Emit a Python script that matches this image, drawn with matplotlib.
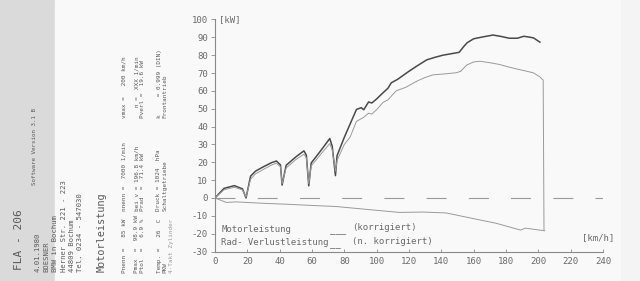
import matplotlib.pyplot as plt
from matplotlib.patches import Rectangle

# dyno printout: Motorleistung (korrigiert), Radleistung, Verlustleistung
motor_v = [0, 5.6, 12, 17, 19.2, 22, 25, 30, 35, 38, 40.5, 41.5, 44, 50, 55, 56.5, 58, 59.5,
           65, 71, 72.5, 74.5, 75.5, 80, 87.5, 90.5, 92, 95, 97, 100, 104, 107, 109, 113,
           120, 125, 131, 136, 141, 146, 151, 154, 156, 160, 166, 172, 177, 182, 187, 191,
           194, 197, 201]
motor_kw = [0, 5.4, 6.9, 5.1, 0, 12.2, 15, 17.5, 19.8, 20.7, 18.5, 7.2, 18.3, 23, 26.4, 24, 6.8, 19.6,
            26, 33.3, 29, 12.5, 23.7, 34, 49.6, 50.6, 49.4, 53.8, 53.2, 55.5, 59, 61.5, 64.5, 66.5,
            71, 74, 77.4, 78.8, 80, 80.8, 81.6, 85, 87, 89.2, 90.3, 91.3, 90.5, 89.5, 89.5, 90.6,
            90.2, 89.7, 87.3]

rad_v = [0, 5.6, 12, 17, 19.2, 22, 25, 30, 35, 38, 40.5, 41.5, 44, 50, 55, 56.5, 58, 59.5,
         65, 71, 72.5, 74.5, 75.5, 80, 83.5, 87.5, 92, 95, 97, 100, 104, 107, 112, 118,
         124.7, 130, 135, 142, 149.5, 152, 155.7, 160, 164, 170, 176, 182, 187, 191, 197,
         201, 203, 203.5]
rad_kw = [0, 4.6, 6, 4.5, 0.5, 10.5, 13.5, 16, 18.5, 19.5, 17.5, 8, 16.8, 21.5, 24.5, 22.5, 8, 18,
          24, 30.5, 27, 15, 21, 30, 34, 42.9, 45.2, 47.5, 47, 49.5, 53.6, 55, 60, 62,
          65.4, 67.5, 69, 69.5, 70.2, 71, 74.5, 76.2, 76.6, 75.8, 74.8, 73.3, 72.2, 71.4, 70.1,
          67.8, 66, -18.2]

verl_v = [0, 7, 13, 30, 44, 60, 75, 95, 114, 129, 143, 160, 174, 189, 192, 204]
verl_kw = [0, -2.5, -2.2, -3, -3.5, -4.2, -4.8, -6.5, -8.1, -7.9, -8.4, -11.6, -14.2, -18, -16.9, -18.4]

x_ticks = list(range(0, 241, 20))
y_ticks = list(range(-30, 101, 10))

mono = 'DejaVu Sans Mono'
grey = '#6a6a6a'

fig = plt.figure(figsize=(6.4, 2.81), dpi=100, facecolor='#f4f4f4')
fig.add_artist(Rectangle((0, 0), 55 / 640, 1, transform=fig.transFigure,
                         color='#dadada', zorder=-5))
fig.add_artist(Rectangle((55 / 640, 0), 565 / 640, 1, transform=fig.transFigure,
                         color='#f9f9f9', zorder=-5))

ax = fig.add_axes([215 / 640, 1 - 251.5 / 281, 388 / 640, 232 / 281])
ax.set_facecolor('none')

ax.plot(motor_v, motor_kw, color='#4a4a4a', lw=1.1)
ax.plot(rad_v, rad_kw, color='#9a9a9a', lw=0.7)
ax.plot(verl_v, verl_kw, color='#9a9a9a', lw=0.7)
ax.axhline(0, color='#9a9a9a', lw=0.8, linestyle=(0, (18, 20)))

ax.set_xlim(0, 240)
ax.set_ylim(-30, 100)
ax.set_xticks(x_ticks)
ax.set_yticks(y_ticks)
ax.set_xticklabels([str(t) for t in x_ticks])
ax.set_yticklabels([str(t) for t in y_ticks])
for s in ['top', 'right']:
    ax.spines[s].set_visible(False)
for s in ['left', 'bottom']:
    ax.spines[s].set_color('#8a8a8a')
    ax.spines[s].set_linewidth(0.8)
ax.tick_params(axis='y', direction='out', length=3, width=0.6, color='#8a8a8a',
               labelsize=6.5, labelcolor=grey, pad=2)
ax.tick_params(axis='x', direction='in', length=2, width=0.6, color='#8a8a8a',
               labelsize=6.5, labelcolor=grey, pad=4)
for lab in ax.get_xticklabels() + ax.get_yticklabels():
    lab.set_family(mono)

ax.text(0.01, 1.0, '[kW]', transform=ax.transAxes, family=mono, fontsize=6.5,
        color=grey, va='center')
ax.text(0.946, 0.06, '[km/h]', transform=ax.transAxes, family=mono, fontsize=6.5,
        color=grey, va='center', clip_on=False)

# legend written into the plot
ax.text(4, -17.5, 'Motorleistung', family=mono, fontsize=6.5, color=grey, va='center')
ax.text(4, -25, 'Rad- Verlustleistung', family=mono, fontsize=6.5, color=grey, va='center')
ax.text(71, -18.5, '___', family=mono, fontsize=6.5, color=grey, va='center')
ax.text(71, -26, '__', family=mono, fontsize=6.5, color=grey, va='center')
ax.text(85, -16.5, '(korrigiert)', family=mono, fontsize=6.5, color=grey, va='center')
ax.text(85, -24.5, '(n. korrigiert)', family=mono, fontsize=6.5, color=grey, va='center')

# rotated header block on the left
def vtext(x, y, s, size, color='#5a5a5a'):
    fig.text(x / 640, 1 - y / 281, s, rotation=90, rotation_mode='anchor',
             ha='left', va='center', family=mono, fontsize=size, color=color)

vtext(19, 270, 'FLA - 206', 8.0)
vtext(35, 185, 'Software Version 3.1 B', 4.2)
addr = 5.2
vtext(38, 272, '4.01.1980', addr)
vtext(46.5, 272, 'BOESNER', addr)
vtext(55, 272, 'BMW in Bochum', addr)
vtext(63.5, 272, 'Herner Str. 221 - 223', addr)
vtext(72, 272, '44809 Bochum', addr)
vtext(80.5, 272, 'Tel. 0234 - 547030', addr)
vtext(102, 272, 'Motorleistung', 7.4)

small = 4.3
vtext(124, 273, 'Pnenn =   85 kW', small)
vtext(124, 211, 'nnenn =  7000 1/min', small)
vtext(124, 118, 'vmax =   200 km/h', small)
vtext(137, 273, 'Pmax  =  98.9 kW', small)
vtext(137, 211, 'bei v = 196.8 km/h', small)
vtext(137, 118, '   n =  XXX 1/min', small)
vtext(143, 273, 'Ptol  =   6.9 %', small)
vtext(143, 211, 'Prad  =  71.4 kW', small)
vtext(143, 118, 'Pverl =  19.6 kW', small)
vtext(159, 273, 'Temp. =   26  C', small)
vtext(159, 211, 'Druck = 1024  hPa', small)
vtext(159, 118, 'k     = 0.999 (DIN)', small)
vtext(165, 273, 'PKW', small)
vtext(165, 211, 'Schaltgetriebe', small)
vtext(165, 118, 'Frontantrieb', small)
vtext(171, 273, '4-Takt Zylinder', small, color='#9a9a9a')

fig.savefig('out.png', dpi=100, facecolor=fig.get_facecolor())
